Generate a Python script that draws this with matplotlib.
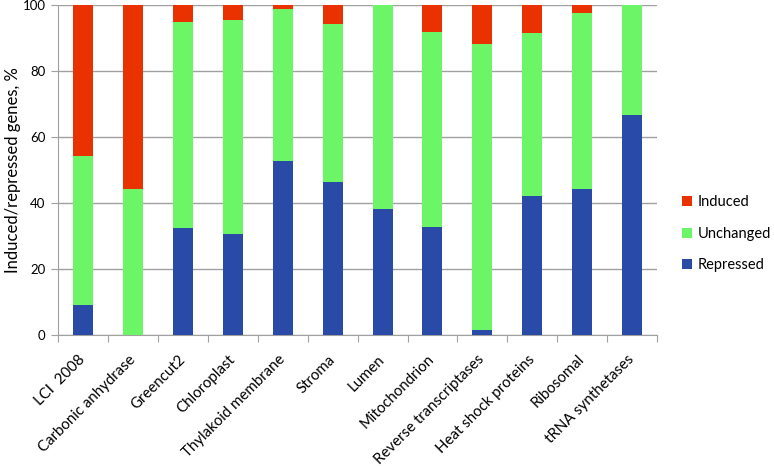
import matplotlib
matplotlib.use("Agg")
import matplotlib.pyplot as plt
import numpy as np

plt.rcParams['font.family'] = ['Lato', 'DejaVu Sans']

categories = ["LCI  2008", "Carbonic anhydrase", "Greencut2", "Chloroplast",
              "Thylakoid membrane", "Stroma", "Lumen", "Mitochondrion",
              "Reverse transcriptases", "Heat shock proteins", "Ribosomal",
              "tRNA synthetases"]
repressed = [9.1, 0.0, 32.4, 30.5, 52.7, 46.5, 38.1, 32.8, 1.5, 42.1, 44.3, 66.6]
unchanged = [45.3, 44.3, 62.6, 65.0, 46.2, 47.8, 61.9, 59.1, 86.8, 49.3, 53.4, 33.4]
induced = [45.6, 55.7, 5.0, 4.5, 1.1, 5.7, 0.0, 8.1, 11.7, 8.6, 2.3, 0.0]
yticks = [0, 20, 40, 60, 80, 100]

c_red = "#EA3200"
c_green = "#6CF566"
c_blue = "#2A4AA8"

fig = plt.figure(figsize=(7.74, 4.66), dpi=100)
ax = fig.add_axes([0.075, 0.281, 0.774, 0.708])

x = np.arange(len(categories))
rep = np.array(repressed)
unc = np.array(unchanged)
ind = np.array(induced)
w = 0.4
b1 = ax.bar(x, rep, w, color=c_blue, label="Repressed", zorder=3)
b2 = ax.bar(x, unc, w, bottom=rep, color=c_green, label="Unchanged", zorder=3)
b3 = ax.bar(x, ind, w, bottom=rep + unc, color=c_red, label="Induced", zorder=3)

ax.set_xlim(-0.5, len(categories) - 0.5)
ax.set_ylim(0, 100)
ax.set_yticks(yticks)
ax.yaxis.grid(True, color="#a0a0a0", linewidth=1.0, zorder=0)
for s in ["top", "right"]:
    ax.spines[s].set_visible(False)
for s in ["left", "bottom"]:
    ax.spines[s].set_color("#a0a0a0")
ax.tick_params(axis="y", length=5, color="#a0a0a0", labelsize=9.5, pad=4)
ax.set_xticks(np.arange(len(categories) + 1) - 0.5, minor=False)
ax.set_xticklabels([])
ax.tick_params(axis="x", which="major", length=5, color="#a0a0a0")
ax.set_xticks(x, minor=True)
ax.set_xticklabels(categories, minor=True, rotation=45, ha="right", va="center",
                   rotation_mode="anchor", fontsize=10.8)
ax.tick_params(axis="x", which="minor", length=0, pad=16)
ax.set_ylabel("Induced/repressed genes, %", fontsize=12)
ax.yaxis.set_label_coords(-0.062, 0.5)

handles = [b3, b2, b1]
leg = fig.legend(handles, ["Induced", "Unchanged", "Repressed"],
                 loc="center left", bbox_to_anchor=(0.881, 0.498), frameon=False,
                 borderpad=0, borderaxespad=0,
                 handlelength=0.7, handleheight=0.7, handletextpad=0.4,
                 labelspacing=1.2, fontsize=10.5)

fig.savefig("out.png", dpi=100)
